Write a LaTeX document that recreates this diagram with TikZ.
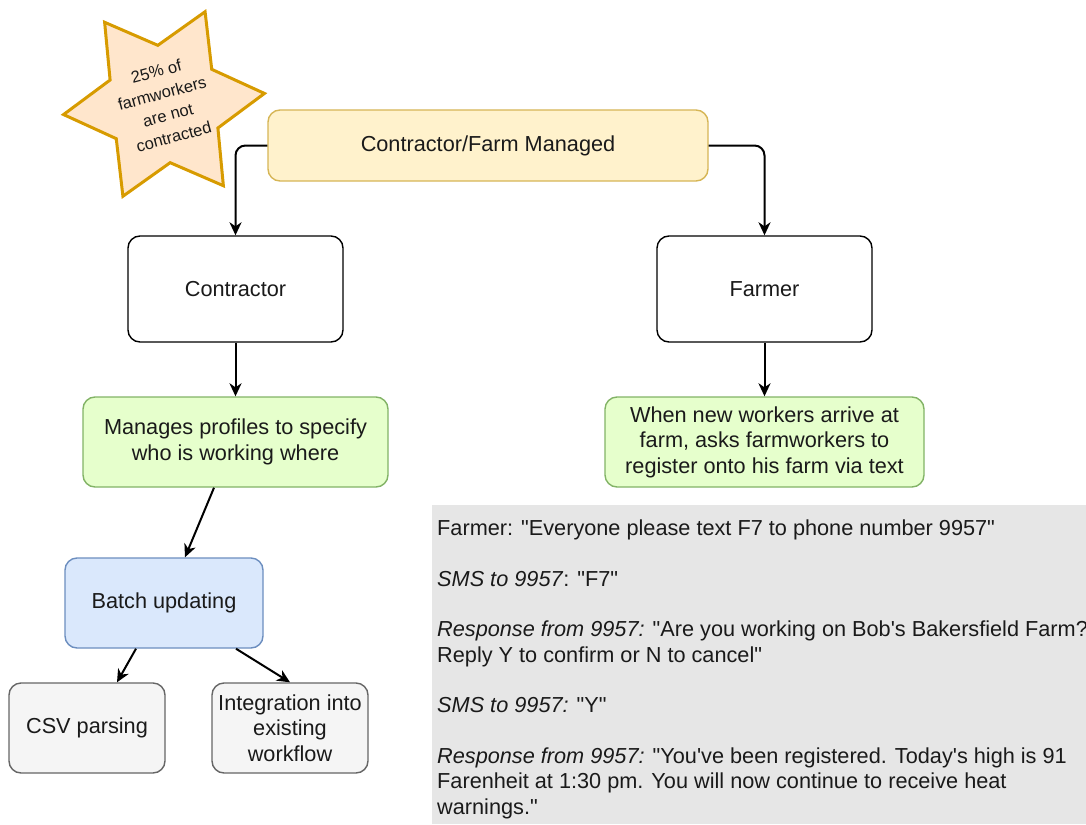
\documentclass[tikz,border=0pt]{standalone}
\usepackage{fontspec}
\setmainfont{Liberation Sans}[Ligatures=TeXOff]
\usetikzlibrary{shapes.geometric,arrows.meta,calc}
\definecolor{yelfill}{HTML}{FFF2CC}
\definecolor{yeldraw}{HTML}{D6B656}
\definecolor{grnfill}{HTML}{E6FFCC}
\definecolor{grndraw}{HTML}{82B366}
\definecolor{blufill}{HTML}{DAE8FC}
\definecolor{bludraw}{HTML}{6C8EBF}
\definecolor{gryfill}{HTML}{F5F5F5}
\definecolor{grydraw}{HTML}{666666}
\definecolor{orgfill}{HTML}{FFE6CC}
\definecolor{orgdraw}{HTML}{D79B00}
\definecolor{infofill}{HTML}{E6E6E6}
\definecolor{txt}{HTML}{1A1A1A}
\begin{document}
\begin{tikzpicture}[x=1pt,y=-1pt,
  box/.style={draw, rounded corners=12pt, line width=1.4pt, align=center,
    inner sep=0pt, text=txt, font=\fontsize{21.7}{25.5}\selectfont},
  conn/.style={line width=2pt, -{Stealth[length=13pt,width=12pt,inset=4pt]}},
  starshape/.style={fill=orgfill, draw=orgdraw, line width=3pt, line join=miter},
]
\useasboundingbox (0,0) rectangle (1086,824);

% gray info panel
\node[fill=infofill, minimum width=654pt, minimum height=319pt, inner sep=0pt, anchor=north west] (info) at (432,505) {};
\node[anchor=north west, align=left, inner sep=0pt, text=txt, font=\fontsize{21.7}{25.5}\selectfont] (infotext) at (437,520)
 {Farmer: "Everyone please text F7 to phone number 9957"\\[25pt]
  \textit{SMS to 9957}: "F7"\\[25pt]
  \textit{Response from 9957:} "Are you working on Bob's Bakersfield Farm?\\
  Reply Y to confirm or N to cancel"\\[25pt]
  \textit{SMS to 9957:} "Y"\\[25pt]
  \textit{Response from 9957:} "You've been registered. Today's high is 91\\
  Farenheit at 1:30 pm. You will now continue to receive heat\\
  warnings."};

% star
\begin{scope}[shift={(164,104)}]
\draw[starshape] (-6:101) -- (24:59) -- (54:101) -- (84:59) -- (114:101) -- (144:59)
  -- (174:101) -- (204:59) -- (234:101) -- (264:59) -- (294:101) -- (324:59) -- cycle;
\end{scope}
\node[rotate=15, align=center, inner sep=0pt, text=txt, font=\fontsize{16.5}{22.5}\selectfont] (star) at (165,104)
  {25\% of\\farmworkers\\are not\\contracted};

% boxes
\node[box, fill=yelfill, draw=yeldraw, minimum width=440pt, minimum height=71pt] (top) at (488,145.5) {Contractor/Farm Managed};
\node[box, fill=white, draw=black, minimum width=215pt, minimum height=106pt] (contr) at (235.5,289) {Contractor};
\node[box, fill=white, draw=black, minimum width=215pt, minimum height=106pt] (farmer) at (764.5,289) {Farmer};
\node[box, fill=grnfill, draw=grndraw, minimum width=305pt, minimum height=90pt] (manages) at (235.5,442) {Manages profiles to specify\\who is working where};
\node[box, fill=grnfill, draw=grndraw, minimum width=319pt, minimum height=90pt] (whennew) at (764.5,442) {When new workers arrive at\\farm, asks farmworkers to\\register onto his farm via text};
\node[box, fill=blufill, draw=bludraw, minimum width=198pt, minimum height=90pt] (batch) at (164,603) {Batch updating};
\node[box, fill=gryfill, draw=grydraw, minimum width=156pt, minimum height=90pt] (csv) at (87,728) {CSV parsing};
\node[box, fill=gryfill, draw=grydraw, minimum width=156pt, minimum height=90pt] (integ) at (290,728) {Integration into\\existing\\workflow};

% connectors
\draw[conn, rounded corners=10pt] (top.west) -| (contr.north);
\draw[conn, rounded corners=10pt] (top.east) -| (farmer.north);
\draw[conn] (contr.south) -- (manages.north);
\draw[conn] (farmer.south) -- (whennew.north);
\draw[conn] ($(manages.south)+(-21.5,0)$) -- ($(batch.north)+(21,0)$);
\draw[conn] ($(batch.south)+(-28,0)$) -- ($(csv.north)+(30,0)$);
\draw[conn] ($(batch.south)+(72,0)$) -- (integ.north);
\end{tikzpicture}
\end{document}
